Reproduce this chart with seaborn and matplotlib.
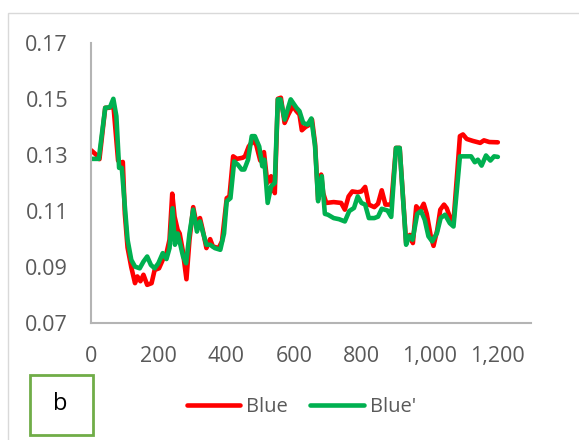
import matplotlib
matplotlib.use("Agg")
import matplotlib.pyplot as plt
from matplotlib.patches import Rectangle
from matplotlib.lines import Line2D
import seaborn as sns
import pandas as pd

# Blue series
blue_x = [0, 16, 25, 42, 53, 58, 66, 80, 89, 94, 100, 108, 119, 130, 137, 146, 155, 166,
          179, 188, 201, 212, 223, 232, 240, 247, 256, 262, 271, 282, 291, 302, 311, 322,
          330, 341, 352, 360, 377, 387, 401, 409, 420, 431, 448, 455, 466, 478, 488, 500,
          511, 521, 532, 543, 552, 561, 572, 583, 596, 607, 616, 623, 634, 642, 653, 662,
          671, 680, 686, 695, 717, 739, 750, 761, 772, 788, 799, 810, 821, 837, 848, 859,
          870, 887, 901, 912, 931, 942, 951, 961, 972, 983, 992, 1004, 1012, 1023, 1032,
          1043, 1051, 1060, 1071, 1082, 1090, 1099, 1110, 1128, 1150, 1161, 1177, 1202]
blue_y = [0.1317, 0.1300, 0.1285, 0.1468, 0.1468, 0.1470, 0.1480, 0.1280, 0.1270, 0.1275,
          0.1090, 0.0970, 0.0900, 0.0843, 0.0867, 0.0850, 0.0873, 0.0837, 0.0843, 0.0890,
          0.0896, 0.0926, 0.0950, 0.0998, 0.1162, 0.1080, 0.1033, 0.1020, 0.0960, 0.0857,
          0.0998, 0.1114, 0.1057, 0.1075, 0.1033, 0.0968, 0.1000, 0.0974, 0.0968, 0.0992,
          0.1146, 0.1152, 0.1295, 0.1286, 0.1290, 0.1295, 0.1330, 0.1350, 0.1337, 0.1280,
          0.1310, 0.1200, 0.1224, 0.1164, 0.1500, 0.1504, 0.1414, 0.1444, 0.1474, 0.1456,
          0.1444, 0.1388, 0.1400, 0.1405, 0.1426, 0.1340, 0.1140, 0.1230, 0.1164, 0.1129,
          0.1132, 0.1129, 0.1105, 0.1152, 0.1170, 0.1167, 0.1170, 0.1186, 0.1123, 0.1114,
          0.1126, 0.1174, 0.1123, 0.1123, 0.1325, 0.1325, 0.0986, 0.1015, 0.0986, 0.1117,
          0.1100, 0.1126, 0.1090, 0.1010, 0.0976, 0.1033, 0.1105, 0.1123, 0.1110, 0.1080,
          0.1063, 0.1236, 0.1367, 0.1373, 0.1357, 0.1350, 0.1343, 0.1352, 0.1346, 0.1345]

# Blue' series
bluep_x = [0, 23, 42, 56, 66, 75, 83, 91, 100, 108, 119, 130, 144, 155, 166, 177, 188, 199,
           212, 223, 232, 241, 248, 256, 264, 272, 281, 291, 302, 313, 322, 330, 341, 352,
           366, 382, 393, 401, 412, 423, 434, 445, 453, 464, 475, 484, 497, 506, 512, 522,
           532, 543, 552, 560, 572, 590, 607, 616, 627, 640, 651, 662, 671, 682, 691, 700,
           717, 733, 750, 763, 777, 788, 799, 810, 821, 837, 848, 859, 876, 887, 901, 912,
           931, 940, 950, 964, 975, 986, 997, 1008, 1022, 1033, 1046, 1060, 1071, 1090,
           1112, 1123, 1134, 1143, 1154, 1167, 1180, 1191, 1202]
bluep_y = [0.1286, 0.1286, 0.1468, 0.1470, 0.1500, 0.1438, 0.1254, 0.1254, 0.1117, 0.0998,
           0.0926, 0.0902, 0.0896, 0.0920, 0.0938, 0.0908, 0.0896, 0.0914, 0.0950, 0.0929,
           0.0968, 0.1110, 0.0980, 0.1020, 0.0980, 0.0938, 0.0914, 0.1020, 0.1105, 0.1027,
           0.1063, 0.1027, 0.0980, 0.0980, 0.0968, 0.0962, 0.1020, 0.1135, 0.1146, 0.1277,
           0.1265, 0.1248, 0.1248, 0.1283, 0.1367, 0.1367, 0.1330, 0.1260, 0.1283, 0.1129,
           0.1188, 0.1200, 0.1498, 0.1498, 0.1426, 0.1498, 0.1468, 0.1456, 0.1414, 0.1408,
           0.1430, 0.1331, 0.1135, 0.1224, 0.1090, 0.1087, 0.1075, 0.1071, 0.1063, 0.1100,
           0.1111, 0.1152, 0.1129, 0.1123, 0.1075, 0.1075, 0.1080, 0.1108, 0.1102, 0.1079,
           0.1325, 0.1325, 0.0980, 0.1010, 0.0998, 0.1090, 0.1100, 0.1069, 0.1010, 0.0992,
           0.1021, 0.1075, 0.1087, 0.1057, 0.1045, 0.1295, 0.1295, 0.1295, 0.1274, 0.1283,
           0.1262, 0.1298, 0.1280, 0.1295, 0.1293]

series_names = ["Blue", "Blue'"]
series_colors = ["#FF0000", "#00B050"]
x_ticks = [0, 200, 400, 600, 800, 1000, 1200]
x_tick_labels = ["0", "200", "400", "600", "800", "1,000", "1,200"]
y_ticks = [0.07, 0.09, 0.11, 0.13, 0.15, 0.17]
y_tick_labels = ["0.07", "0.09", "0.11", "0.13", "0.15", "0.17"]
panel_label = "b"

df = pd.concat([
    pd.DataFrame({"x": blue_x, "y": blue_y, "series": series_names[0]}),
    pd.DataFrame({"x": bluep_x, "y": bluep_y, "series": series_names[1]}),
], ignore_index=True)

sns.set_theme(style="white")
plt.rcParams["font.family"] = ["Open Sans", "DejaVu Sans"]

W, H = 579, 440
fig = plt.figure(figsize=(W / 100, H / 100), dpi=100)
ax = fig.add_axes([91 / W, 1 - 323.3 / H, (531 - 91) / W, (323.3 - 42.7) / H])

sns.lineplot(data=df, x="x", y="y", hue="series", hue_order=series_names,
             palette=series_colors, estimator=None, sort=False, linewidth=3.3,
             legend=False, ax=ax)

ax.set_xlim(0, 1300)
ax.set_ylim(0.07, 0.17)
ax.set_xticks(x_ticks)
ax.set_xticklabels(x_tick_labels)
ax.set_yticks(y_ticks)
ax.set_yticklabels(y_tick_labels)
ax.set_xlabel("")
ax.set_ylabel("")
ax.tick_params(axis="both", length=0, labelsize=15.5, labelcolor="#595959")
ax.tick_params(axis="y", pad=16.5)
ax.tick_params(axis="x", pad=16)
for side in ["top", "right"]:
    ax.spines[side].set_visible(False)
for side in ["left", "bottom"]:
    ax.spines[side].set_color("#B4B4B4")
    ax.spines[side].set_linewidth(1.5)
ax.grid(False)

# Legend below the plot area
handles = [Line2D([0], [0], color=c, lw=3.3) for c in series_colors]
fig.legend(handles, series_names, loc="center",
           bbox_to_anchor=(301.5 / W, 1 - 407 / H), bbox_transform=fig.transFigure,
           ncol=2, frameon=False, fontsize=14.5, labelcolor="#595959",
           handlelength=2.65, handletextpad=0.3, columnspacing=1.1)

# Panel label box
fig.patches.append(Rectangle((30 / W, 1 - 435 / H), 63 / W, 60 / H,
                             transform=fig.transFigure, fill=False,
                             edgecolor="#70AD47", linewidth=2))
fig.text(60 / W, 1 - 404 / H, panel_label, ha="center", va="center",
         fontsize=17, color="black")

# Chart-area outline
fig.patches.append(Rectangle((8 / W, -0.05), 1.1, 1 - 13 / H + 0.05,
                             transform=fig.transFigure, fill=False,
                             edgecolor="#D9D9D9", linewidth=1))

fig.savefig("out.png", dpi=100)
